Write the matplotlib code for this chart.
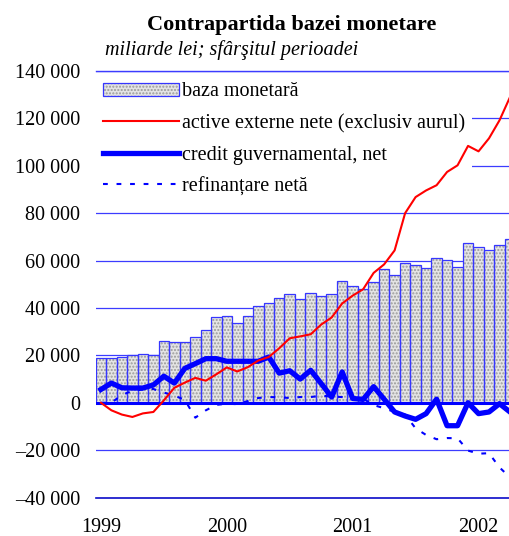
import numpy as np
import matplotlib
matplotlib.use("Agg")
import matplotlib.pyplot as plt
from matplotlib.legend_handler import HandlerTuple

plt.rcParams['font.family'] = ['Liberation Serif', 'DejaVu Serif']

# date lunare, ian. 1999 - apr. 2002 (miliarde lei, sfarsitul perioadei)
ani = ['1999', '2000', '2001', '2002']
baza_monetara = [19000, 19000, 19200, 20300, 20700, 20000, 26200, 25600, 25600, 27900,
                 30600, 36000, 36600, 33800, 36500, 40900, 42000, 44200, 46100, 43600,
                 46500, 45100, 46100, 51400, 49300, 47800, 50800, 56500, 54100, 59000,
                 58300, 56900, 61100, 60300, 57200, 67600, 65800, 64500, 66500, 69100]
active_externe = [0, -3200, -5000, -6000, -4500, -3900, 1000, 6300, 8500, 10500,
                  9300, 12000, 14900, 13200, 15000, 17800, 19300, 23000, 27200, 28000,
                  28900, 33000, 36000, 41900, 45200, 47900, 54800, 58400, 64300, 80000,
                  86800, 89600, 91800, 97400, 100200, 108400, 106100, 111600, 119200, 129000]
credit_guv = [5600, 8300, 6300, 6200, 6200, 7500, 11200, 8300, 14500, 16500,
              18600, 18600, 17500, 17500, 17500, 17500, 19300, 12500, 13500, 10000,
              13700, 8100, 2400, 13000, 1800, 1400, 6800, 1500, -3900, -5600,
              -7000, -4600, 1500, -9700, -9700, 0, -4600, -3900, -400, -3900]
refinantare = [0, 0, 3300, 5000, 5600, 5800, 4300, 3000, 1200, -6300,
               -3200, -900, -400, -600, 700, 2000, 2400, 2300, 2000, 2400,
               2400, 3000, 2600, 2400, 2000, 1700, -1000, -2300, -3900, -5000,
               -10800, -13600, -15400, -14900, -15000, -20200, -21500, -21300, -27300, -31500]

x = np.arange(len(baza_monetara))

fig = plt.figure(figsize=(5.1, 5.36), dpi=100)
ax = fig.add_axes([0.1876, 0.0718, 0.8124, 0.7957])

ticks_y = np.arange(-40000, 140001, 20000)
for v in ticks_y[1:]:
    if v == 0:
        continue
    ax.axhline(v, color='#3c3cff', lw=0.9, zorder=0)

# bare: umplutura punctata + contur albastru
b1 = ax.bar(x, baza_monetara, width=1.0, facecolor='#e4e4e4', edgecolor='#9a9a9a',
            hatch='.....', lw=0, zorder=1)
b2 = ax.bar(x, baza_monetara, width=1.0, facecolor='none', edgecolor='#3636ff',
            lw=0.9, zorder=2)

ax.axhline(0, color='#0000ff', lw=2.2, zorder=3)

l1, = ax.plot(x, active_externe, color='#ff0000', lw=1.5, zorder=5)
l2, = ax.plot(x, credit_guv, color='#0000ff', lw=3.8, zorder=4, solid_joinstyle='round')
l3, = ax.plot(x, refinantare, color='#0000ff', lw=1.5, linestyle=(0, (2.3, 4.2)), zorder=4)

ax.set_xlim(-0.5, 39.0)
ax.set_ylim(-40000, 140000)
ax.set_yticks(ticks_y)
ax.set_yticklabels([f"{v:,}".replace(',', ' ').replace('-', '\u2013') for v in ticks_y])
ax.set_xticks([0, 12, 24, 36])
ax.set_xticklabels(ani)
ax.tick_params(axis='both', length=0, labelsize=14.5)
ax.tick_params(axis='y', pad=11.3)
ax.tick_params(axis='x', pad=15)

for s in ['left', 'right', 'top']:
    ax.spines[s].set_visible(False)
ax.spines['bottom'].set_color('#0a0ac8')
ax.spines['bottom'].set_linewidth(1.2)
ax.axhline(140000, color='#3c3cff', lw=1.0, zorder=0, clip_on=False)

leg = ax.legend([(b1, b2), l1, l2, l3],
                ['baza monetară', 'active externe nete (exclusiv aurul)',
                 'credit guvernamental, net', 'refinanțare netă'],
                handler_map={tuple: HandlerTuple(ndivide=1)},
                loc='upper left', bbox_to_anchor=(0.0, 0.99), borderaxespad=0,
                borderpad=0.35, handlelength=3.8, handletextpad=0.15, handleheight=0.6,
                labelspacing=0.62, fontsize=14.5, frameon=True, fancybox=False,
                framealpha=1, facecolor='white', edgecolor='none')
leg.set_zorder(3.5)

fig.text(0.572, 0.944, 'Contrapartida bazei monetare', ha='center', va='baseline',
         fontsize=16, fontweight='bold')
fig.text(0.206, 0.897, 'miliarde lei; sfârşitul perioadei', ha='left', va='baseline',
         fontsize=14.5, style='italic')

fig.savefig('out.png', dpi=100)
